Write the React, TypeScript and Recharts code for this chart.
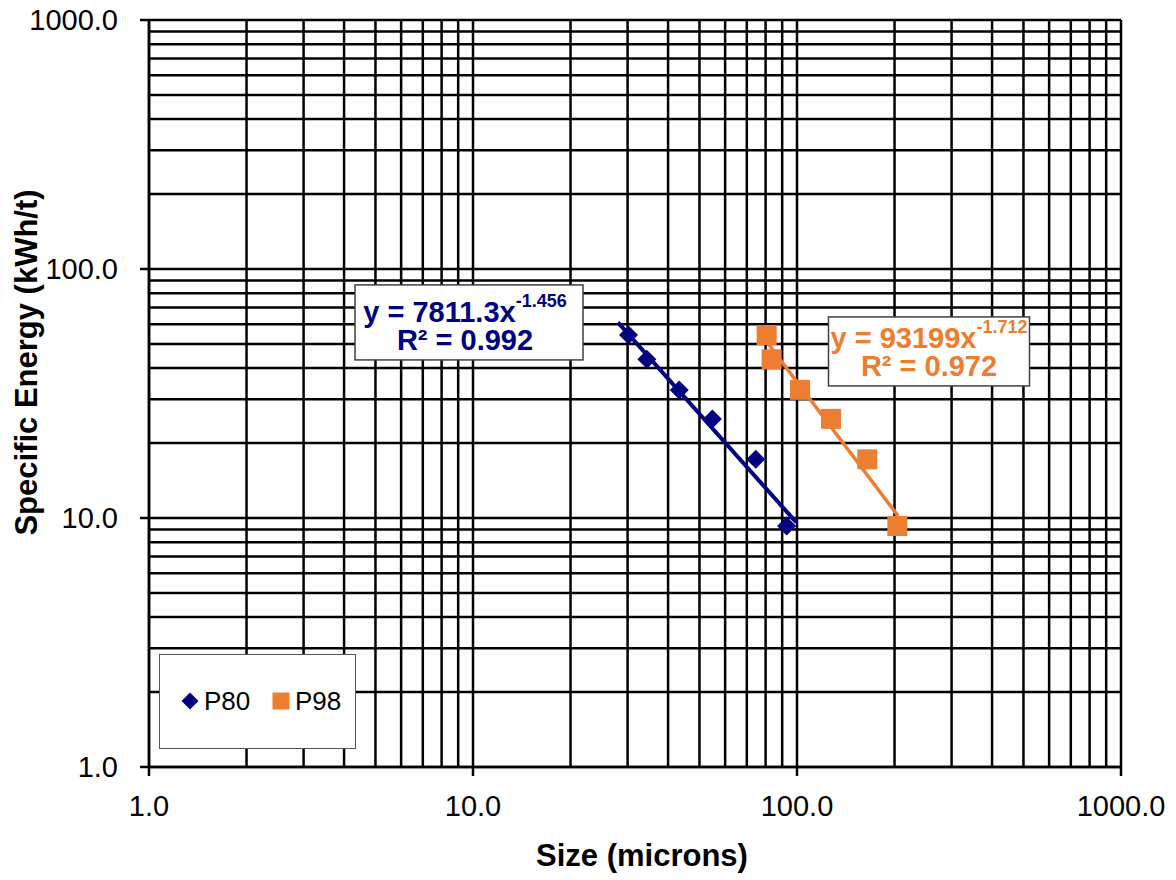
import { ComposedChart, Scatter, XAxis, YAxis, CartesianGrid, Legend, ReferenceDot } from "recharts"

const gridTicks = [
  1, 2, 3, 4, 5, 6, 7, 8, 9,
  10, 20, 30, 40, 50, 60, 70, 80, 90,
  100, 200, 300, 400, 500, 600, 700, 800, 900,
  1000,
]
const labelTicks = [1, 10, 100, 1000]

const energy = [54.3, 43.4, 32.7, 25.0, 17.2, 9.29]
const p80Size = [30.2, 34.4, 43.3, 54.8, 74.6, 92.9]
const p98Size = [80.6, 83.5, 102.2, 127.3, 164.8, 204]

const p80Fit = [
  { x: 28, y: 61 },
  { x: 99.5, y: 9.6 },
]
const p98Fit = [
  { x: 78, y: 54 },
  { x: 205, y: 10.2 },
]

const p80Data = p80Size.map((x, i) => ({ x, y: energy[i] }))
const p98Data = p98Size.map((x, i) => ({ x, y: energy[i] }))

const NAVY = "#000080"
const ORANGE = "#ED7D31"
const FONT = "'Liberation Sans', Arial, sans-serif"

function XTick({ x, y, payload }: any) {
  if (!labelTicks.includes(payload.value)) return <g />
  return (
    <g>
      <line x1={x} y1={y} x2={x} y2={y + 9} stroke="#000" strokeWidth={2.5} />
      <text x={x} y={y + 49} textAnchor="middle" fontSize={29} fontFamily={FONT} fill="#000">
        {Number(payload.value).toFixed(1)}
      </text>
    </g>
  )
}

function YTick({ x, y, payload }: any) {
  if (!labelTicks.includes(payload.value)) return <g />
  return (
    <g>
      <line x1={x} y1={y} x2={x - 9} y2={y} stroke="#000" strokeWidth={2.5} />
      <text x={x - 31} y={y + 10} textAnchor="end" fontSize={29} fontFamily={FONT} fill="#000">
        {Number(payload.value).toFixed(1)}
      </text>
    </g>
  )
}

function Diamond({ cx, cy, fill, s = 9.5 }: any) {
  return <polygon points={`${cx},${cy - s} ${cx + s},${cy} ${cx},${cy + s} ${cx - s},${cy}`} fill={fill} />
}

function Square({ cx, cy, fill, s = 10 }: any) {
  return <rect x={cx - s} y={cy - s} width={s * 2} height={s * 2} fill={fill} />
}

function EqBox({ cx, cy, width, height, base, shift, color, coef, exp, r2 }: any) {
  const tx = cx + shift
  return (
    <g fontFamily={FONT} fontWeight="bold" fill={color}>
      <rect x={cx - width / 2} y={cy} width={width} height={height} fill="#fff" stroke="#404040" strokeWidth={1.5} />
      <text x={tx} y={cy + base} textAnchor="middle" fontSize={29} fill={color}>
        y = {coef}x<tspan dy={-15} fontSize={18}>{exp}</tspan>
      </text>
      <text x={tx} y={cy + base + 28} textAnchor="middle" fontSize={29} fill={color}>
        R² = {r2}
      </text>
    </g>
  )
}

function LegendBox({ payload }: any) {
  const items = (payload || []).filter((p: any) => p.type !== "none")
  return (
    <div style={{ width: 197, height: 95, boxSizing: "border-box", border: "1.5px solid #555", background: "#fff" }}>
      <svg width={194} height={92}>
        {items.map((p: any, i: number) => {
          const left = i * 91
          return (
            <g key={p.value}>
              {p.type === "diamond" ? (
                <Diamond cx={left + 30} cy={46} s={8.5} fill={p.color} />
              ) : (
                <Square cx={left + 30} cy={46} s={8.5} fill={p.color} />
              )}
              <text x={left + 44} y={55} fontSize={26} fontFamily={FONT} fill="#000">
                {p.value}
              </text>
            </g>
          )
        })}
      </svg>
    </div>
  )
}

function XLabel({ viewBox }: any) {
  const { x, y, width } = viewBox
  return (
    <text x={x + width / 2 + 7} y={y + 99} textAnchor="middle" fontSize={31} fontWeight="bold" fontFamily={FONT} fill="#000">
      Size (microns)
    </text>
  )
}

function YLabel({ viewBox }: any) {
  const { y, height } = viewBox
  const cx = 37
  const cy = y + height / 2 - 31
  return (
    <text
      x={cx}
      y={cy}
      transform={`rotate(-90, ${cx}, ${cy})`}
      textAnchor="middle"
      fontSize={31}
      fontWeight="bold"
      fontFamily={FONT}
      fill="#000"
    >
      Specific Energy (kWh/t)
    </text>
  )
}

export default function App() {
  return (
    <div style={{ position: "absolute", left: 0, top: 0, background: "#fff" }}>
      <ComposedChart width={1176} height={880} margin={{ top: 20, right: 55, bottom: 0, left: 0 }}>
        <CartesianGrid stroke="#000" strokeWidth={2.5} />
        <XAxis
          type="number"
          dataKey="x"
          scale="log"
          domain={[1, 1000]}
          ticks={gridTicks}
          interval={0}
          allowDataOverflow
          height={113}
          tickSize={0}
          tickMargin={0}
          tickLine={false}
          axisLine={{ stroke: "#000", strokeWidth: 2.5 }}
          tick={<XTick />}
          label={<XLabel />}
        />
        <YAxis
          type="number"
          dataKey="y"
          scale="log"
          domain={[1, 1000]}
          ticks={gridTicks}
          interval={0}
          allowDataOverflow
          width={149}
          tickSize={0}
          tickMargin={0}
          tickLine={false}
          axisLine={{ stroke: "#000", strokeWidth: 2.5 }}
          tick={<YTick />}
          label={<YLabel />}
        />
        <Scatter
          name="P80"
          data={p80Data}
          fill={NAVY}
          legendType="diamond"
          shape={(p: any) => <Diamond cx={p.cx} cy={p.cy} fill={NAVY} />}
          isAnimationActive={false}
        />
        <Scatter
          name="P98"
          data={p98Data}
          fill={ORANGE}
          legendType="square"
          shape={(p: any) => <Square cx={p.cx} cy={p.cy} fill={ORANGE} />}
          isAnimationActive={false}
        />
        <Scatter
          name="P80 fit"
          data={p80Fit}
          legendType="none"
          line={{ stroke: NAVY, strokeWidth: 4 }}
          shape={() => <g />}
          isAnimationActive={false}
        />
        <Scatter
          name="P98 fit"
          data={p98Fit}
          legendType="none"
          line={{ stroke: ORANGE, strokeWidth: 3.5 }}
          shape={() => <g />}
          isAnimationActive={false}
        />
        <ReferenceDot
          x={9.72}
          y={86.3}
          r={0}
          ifOverflow="visible"
          shape={(p: any) => (
            <EqBox cx={p.cx} cy={p.cy} width={228} height={75} base={37} shift={-4} color={NAVY} coef="7811.3" exp="-1.456" r2="0.992" />
          )}
        />
        <ReferenceDot
          x={255.5}
          y={64.2}
          r={0}
          ifOverflow="visible"
          shape={(p: any) => (
            <EqBox cx={p.cx} cy={p.cy} width={201} height={69} base={31} shift={0} color={ORANGE} coef="93199" exp="-1.712" r2="0.972" />
          )}
        />
        <Legend
          layout="horizontal"
          align="center"
          verticalAlign="middle"
          wrapperStyle={{ left: 159, top: 654, width: 197, height: 95 }}
          content={<LegendBox />}
        />
      </ComposedChart>
    </div>
  )
}
